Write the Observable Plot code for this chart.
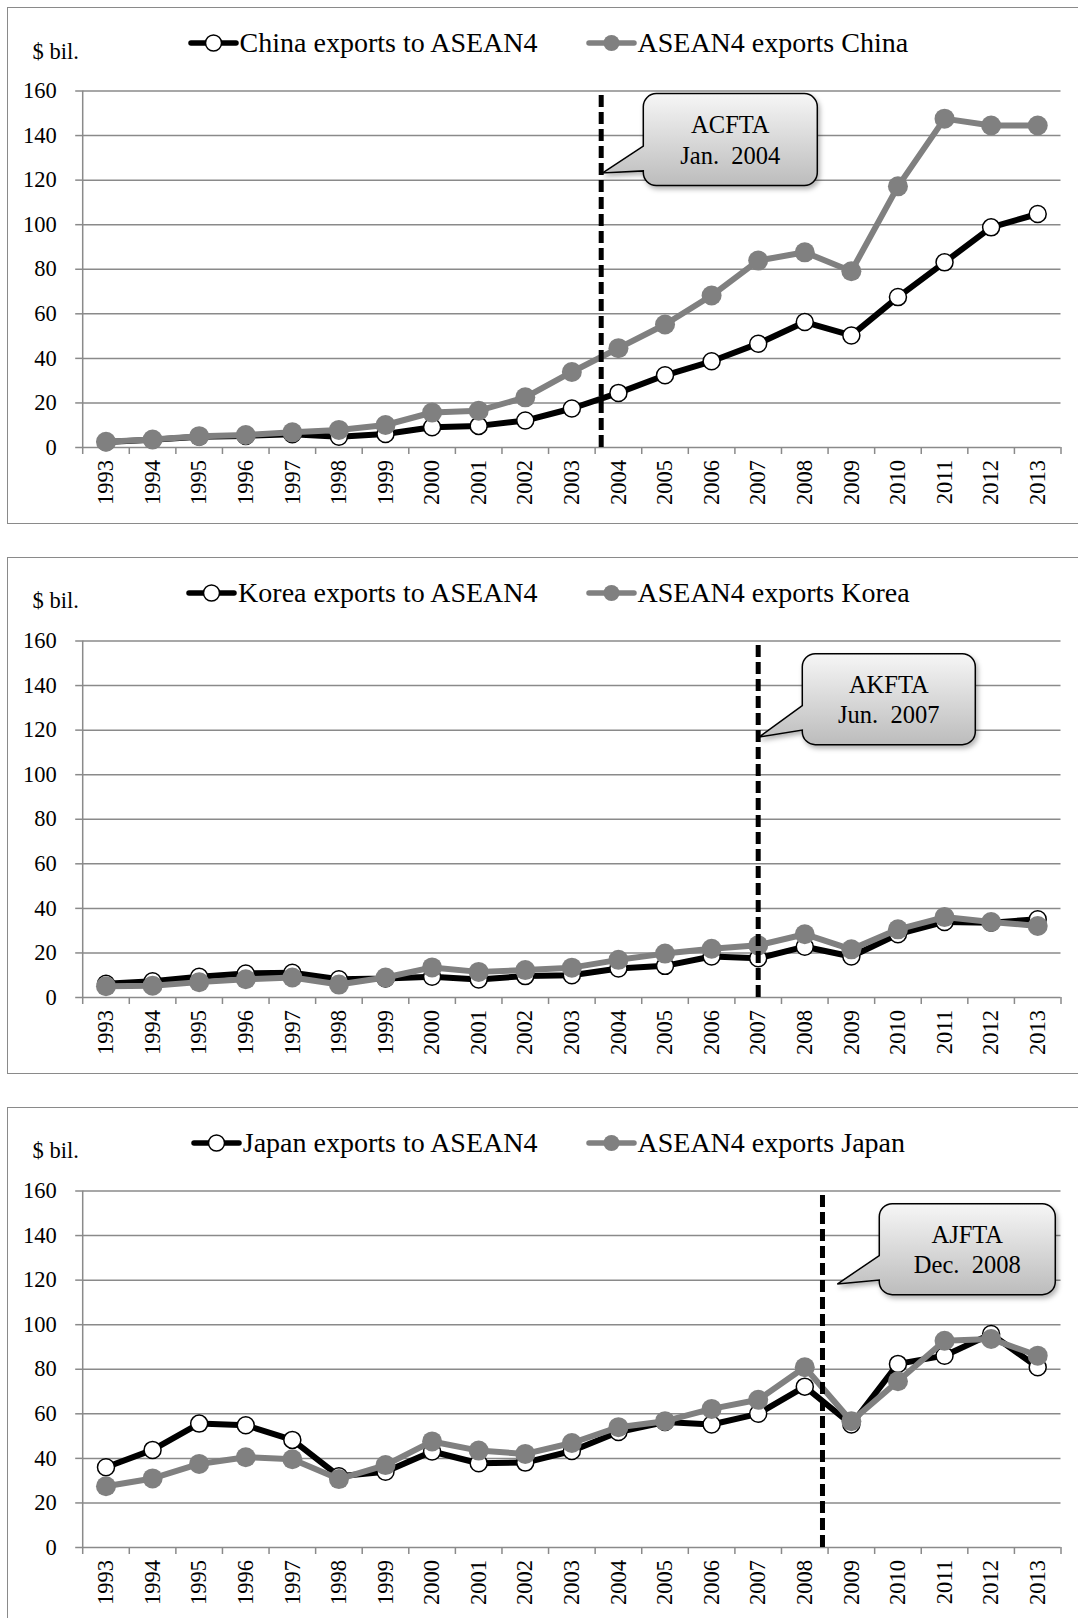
<!DOCTYPE html>
<html>
<head>
<meta charset="utf-8">
<script src="https://cdn.jsdelivr.net/npm/d3@7"></script>
<script src="https://cdn.jsdelivr.net/npm/@observablehq/plot@0.6"></script>
<style>
  html, body { margin: 0; padding: 0; background: #fff; overflow: hidden; }
  body { width: 1078px; height: 1618px; position: relative; font-family: "Liberation Serif", "Times New Roman", serif; color: #000; }
  .panel { position: absolute; left: 7px; width: 1080px; height: 517px; box-sizing: border-box; border: 1.5px solid #8a8a8a; background: #fff; }
  .panel svg.chart { position: absolute; left: 0; top: 0; }
  .ylab { position: absolute; left: 24.5px; font-size: 22.5px; line-height: 1; transform: translateY(-50%); white-space: nowrap; }
  .leg { position: absolute; display: flex; align-items: center; font-size: 28px; line-height: 1; white-space: nowrap; transform: translateY(-50%); }
  .leg svg { display: block; margin-right: 1px; }
</style>
</head>
<body>
<script>
// ---------- data ----------
const years = [1993, 1994, 1995, 1996, 1997, 1998, 1999, 2000, 2001, 2002, 2003,
               2004, 2005, 2006, 2007, 2008, 2009, 2010, 2011, 2012, 2013];
const yTicks = [0, 20, 40, 60, 80, 100, 120, 140, 160];

const chinaToAsean = [2.5, 3.5, 4.8, 5.2, 6.0, 4.8, 6.1, 9.1, 9.7, 12.1, 17.5,
                      24.5, 32.4, 38.7, 46.6, 56.3, 50.3, 67.5, 83.1, 98.8, 104.8];
const aseanToChina = [2.6, 3.6, 5.1, 5.6, 6.8, 7.9, 10.1, 15.7, 16.5, 22.5, 33.9,
                      44.6, 55.2, 68.2, 83.9, 87.6, 79.1, 117.2, 147.6, 144.5, 144.5];

const koreaToAsean = [6.2, 7.3, 9.3, 10.8, 11.1, 8.2, 8.5, 9.3, 8.1, 9.6, 10.0,
                      13.0, 14.2, 18.4, 17.6, 22.8, 18.4, 28.4, 33.9, 33.6, 35.1];
const aseanToKorea = [5.1, 5.3, 6.9, 8.2, 9.0, 5.8, 9.0, 13.5, 11.5, 12.3, 13.4,
                      16.9, 19.7, 21.9, 23.4, 28.4, 21.6, 30.6, 36.1, 33.9, 32.1];

const japanToAsean = [36.0, 43.8, 55.6, 54.9, 48.3, 32.0, 34.0, 43.1, 37.8, 38.1, 43.3,
                      51.8, 56.3, 55.2, 60.0, 72.2, 55.2, 82.4, 86.1, 95.8, 80.9];
const aseanToJapan = [27.5, 31.0, 37.5, 40.5, 39.6, 30.7, 37.0, 47.6, 43.5, 42.0, 46.9,
                      54.0, 56.7, 62.2, 66.3, 80.9, 56.7, 74.6, 92.8, 93.6, 86.1];

const exportLabels = ["China exports to ASEAN4", "Korea exports to ASEAN4", "Japan exports to ASEAN4"];
const importLabels = ["ASEAN4 exports China", "ASEAN4 exports Korea", "ASEAN4 exports Japan"];

const ftaNames  = ["ACFTA", "AKFTA", "AJFTA"];
const ftaLabels = ["Jan.  2004", "Jun.  2007", "Dec.  2008"];
const ftaDates  = [2003.63, 2007.0, 2008.38];   // decimal year of entry into force

const yUnit = "$ bil.";

// ---------- styling / layout ----------
const GRID = "#8a8a8a";
const GREY = "#808080";
const FONT = "'Liberation Serif', 'Times New Roman', serif";
const panelTops = [7, 557, 1107];
const callouts = [
  {dx: 42.6, w: 174, h: 92, topV: 158.6, tipDx: 2.0, tipV: 123.0},
  {dx: 44.6, w: 173, h: 91, topV: 154.1, tipDx: 1.6, tipV: 116.7},
  {dx: 57.3, w: 176, h: 91, topV: 154.1, tipDx: 15.3, tipV: 118.0}
];
const seriesA = [chinaToAsean, koreaToAsean, japanToAsean];
const seriesB = [aseanToChina, aseanToKorea, aseanToJapan];

const xDomain = [years[0] - 0.5, years[years.length - 1] + 0.5];
const boundaries = years.map(y => y - 0.5).concat([years[years.length - 1] + 0.5]);

function legendMarker(open) {
  const stroke = open ? "#000" : GREY;
  const fill = open ? "#fff" : GREY;
  return `<svg width="51" height="20" viewBox="0 0 51 20">
    <line x1="3" y1="10" x2="48" y2="10" stroke="${stroke}" stroke-width="5.5" stroke-linecap="round"/>
    <circle cx="25.5" cy="10" r="8" fill="${fill}" stroke="${open ? "#000" : "none"}" stroke-width="1.5"/>
  </svg>`;
}

function calloutMark(i) {
  const c = callouts[i];
  return (index, scales) => {
    const X = scales.x(ftaDates[i]);
    const L = X + c.dx, T = scales.y(c.topV), R = L + c.w, B = T + c.h;
    const tx = X + c.tipDx, ty = scales.y(c.tipV);
    const r = 13;
    const b1 = T + 0.57 * c.h, b2 = T + 0.84 * c.h;
    const g = d3.create("svg:g");
    const defs = g.append("defs");
    const grad = defs.append("linearGradient").attr("id", "cg" + i)
      .attr("x1", 0).attr("y1", 0).attr("x2", 0).attr("y2", 1);
    grad.append("stop").attr("offset", "0%").attr("stop-color", "#f6f6f6");
    grad.append("stop").attr("offset", "100%").attr("stop-color", "#bcbcbc");
    const f = defs.append("filter").attr("id", "cs" + i)
      .attr("x", "-20%").attr("y", "-20%").attr("width", "140%").attr("height", "150%");
    f.append("feDropShadow").attr("dx", 2).attr("dy", 3).attr("stdDeviation", 2.5)
      .attr("flood-color", "#000").attr("flood-opacity", 0.3);
    const d = `M${L + r},${T} H${R - r} A${r},${r} 0 0 1 ${R},${T + r} V${B - r} ` +
              `A${r},${r} 0 0 1 ${R - r},${B} H${L + r} A${r},${r} 0 0 1 ${L},${B - r} ` +
              `V${b2} L${tx},${ty} L${L},${b1} V${T + r} A${r},${r} 0 0 1 ${L + r},${T} Z`;
    g.append("path").attr("d", d).attr("fill", `url(#cg${i})`)
      .attr("stroke", "#000").attr("stroke-width", 1.5).attr("filter", `url(#cs${i})`);
    const cx = (L + R) / 2;
    [ftaNames[i], ftaLabels[i]].forEach((t, k) => {
      g.append("text").attr("x", cx).attr("y", T + (k === 0 ? 0.335 : 0.67) * c.h)
        .attr("text-anchor", "middle").attr("dominant-baseline", "central")
        .attr("font-family", FONT).attr("font-size", 24.5).attr("fill", "#000")
        .style("white-space", "pre").text(t);
    });
    return g.node();
  };
}

panelTops.forEach((top, i) => {
  const panel = document.createElement("div");
  panel.className = "panel";
  panel.style.top = top + "px";
  document.body.appendChild(panel);

  const rows = years.map((year, k) => ({year, a: seriesA[i][k], b: seriesB[i][k]}));

  const chart = Plot.plot({
    width: 1069, height: 514,
    marginLeft: 74.2, marginRight: 16.5, marginTop: 82.5, marginBottom: 75,
    style: {fontFamily: FONT, fontSize: "22.5px", background: "transparent", color: "#000", overflow: "visible"},
    x: {domain: xDomain, axis: null},
    y: {domain: [0, 160], axis: null},
    marks: [
      Plot.gridY({ticks: yTicks, stroke: GRID, strokeOpacity: 1, strokeWidth: 1.5}),
      Plot.ruleX([xDomain[0]], {y1: 0, y2: 160, stroke: GRID, strokeWidth: 1.5}),
      Plot.axisY({ticks: yTicks, tickSize: 7, tickPadding: 19, stroke: GRID, strokeWidth: 1.5,
                  fill: "#000", fontSize: 22.5, fontFamily: FONT, label: null, tickFormat: d => String(d)}),
      Plot.axisX({ticks: boundaries, tickSize: 7, stroke: GRID, strokeWidth: 1.5,
                  tickFormat: () => "", label: null}),
      Plot.axisX({ticks: years, tickSize: 0, tickPadding: 12.5, tickRotate: -90,
                  fill: "#000", fontSize: 22.5, fontFamily: FONT, label: null, tickFormat: d => String(d)}),
      Plot.line(rows, {x: "year", y: "a", stroke: "#000", strokeWidth: 6, strokeLinejoin: "round"}),
      Plot.dot(rows, {x: "year", y: "a", r: 8.5, fill: "#fff", stroke: "#000", strokeWidth: 1.5}),
      Plot.line(rows, {x: "year", y: "b", stroke: GREY, strokeWidth: 6, strokeLinejoin: "round"}),
      Plot.dot(rows, {x: "year", y: "b", r: 10, fill: GREY, stroke: "none"}),
      Plot.ruleX([ftaDates[i]], {x: d => d, y1: 0, y2: 158, stroke: "#000", strokeWidth: 5, strokeDasharray: "12,5"}),
      calloutMark(i)
    ]
  });
  chart.classList.add("chart");
  panel.appendChild(chart);

  const ylab = document.createElement("div");
  ylab.className = "ylab";
  ylab.style.top = (i === 0 ? 44 : 43) + "px";
  ylab.textContent = yUnit;
  panel.appendChild(ylab);

  const leg1 = document.createElement("div");
  leg1.className = "leg";
  leg1.style.right = (1077 - 528.5) + "px";
  leg1.style.top = "34.5px";
  leg1.innerHTML = legendMarker(true) + `<span>${exportLabels[i]}</span>`;
  panel.appendChild(leg1);

  const leg2 = document.createElement("div");
  leg2.className = "leg";
  leg2.style.left = "577.5px";
  leg2.style.top = "34.5px";
  leg2.innerHTML = legendMarker(false) + `<span>${importLabels[i]}</span>`;
  panel.appendChild(leg2);
});
</script>
</body>
</html>
